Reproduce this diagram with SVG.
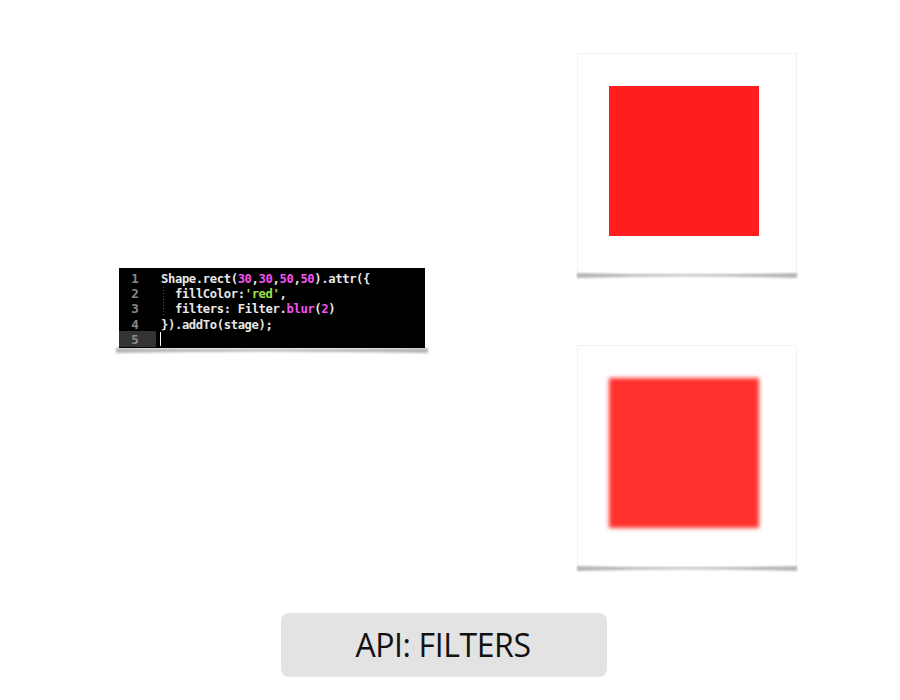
<svg xmlns="http://www.w3.org/2000/svg" width="900" height="700" viewBox="0 0 900 700">
<style>
.code{font-family:"DejaVu Sans Mono","Liberation Mono",monospace;font-size:12.2px;letter-spacing:-0.37px;font-weight:bold;fill:#e8e8e8}
.ln{font-family:"DejaVu Sans Mono","Liberation Mono",monospace;font-size:12.5px;font-weight:bold;fill:#8a8a8a;text-anchor:middle}
.num{fill:#f452f4}
.str{fill:#9ee04a}
.fn{fill:#f452f4}
.card{fill:#fff;stroke:#f1f1f1;stroke-width:1}
.shadow{fill:#b5b5b5}
.title{font-family:"Open Sans","Noto Sans","Liberation Sans",sans-serif;font-size:32px;letter-spacing:-0.4px;fill:#111;text-anchor:middle}
</style>
<defs>
<filter id="blur" x="-10%" y="-10%" width="120%" height="120%"><feGaussianBlur stdDeviation="2"/></filter>
<filter id="soft" x="-5%" y="-200%" width="110%" height="500%"><feGaussianBlur stdDeviation="0.8"/></filter>
</defs>
<rect width="900" height="700" fill="#fff"/>

<g id="code-block">
<path class="shadow" filter="url(#soft)" d="M116,348 Q272,350 428,348 L428,353 Q272,350 116,353 Z"/>
<rect x="119" y="268" width="306" height="80" fill="#000"/>
<rect x="119" y="331" width="37" height="16" fill="#333"/>
<line x1="160.5" y1="332" x2="160.5" y2="346" stroke="#fff" stroke-width="1"/>
<line x1="163.5" y1="287" x2="163.5" y2="316" stroke="#555" stroke-width="1" stroke-dasharray="1,2"/>
<text class="ln" x="135" y="283">1</text>
<text class="ln" x="135" y="298">2</text>
<text class="ln" x="135" y="313">3</text>
<text class="ln" x="135" y="329">4</text>
<text class="ln" x="135" y="344">5</text>
<text class="code" x="161" y="283">Shape.rect(<tspan class="num">30</tspan>,<tspan class="num">30</tspan>,<tspan class="num">50</tspan>,<tspan class="num">50</tspan>).attr({</text>
<text class="code" x="175" y="298" xml:space="preserve">fillColor:<tspan class="str">'red'</tspan>,</text>
<text class="code" x="175" y="313">filters: Filter.<tspan class="fn">blur</tspan>(<tspan class="num">2</tspan>)</text>
<text class="code" x="161" y="329">}).addTo(stage);</text>
</g>

<g id="card-plain">
<rect class="card" x="577.5" y="53.5" width="219" height="221"/>
<path class="shadow" filter="url(#soft)" d="M577,273 Q687,276 797,273 L797,278 Q687,274.5 577,278 Z"/>
<rect x="609" y="86" width="150" height="150" fill="#ff1e1e"/>
</g>

<g id="card-blurred">
<rect class="card" x="577.5" y="345.5" width="219" height="222"/>
<path class="shadow" filter="url(#soft)" d="M577,566 Q687,569 797,566 L797,571 Q687,567.5 577,571 Z"/>
<rect x="609" y="378" width="150" height="150" fill="#ff312d" filter="url(#blur)"/>
</g>

<g id="title">
<rect x="281" y="613" width="326" height="64" rx="8" fill="#e3e3e3"/>
<text class="title" x="443" y="657">API: FILTERS</text>
</g>
</svg>
